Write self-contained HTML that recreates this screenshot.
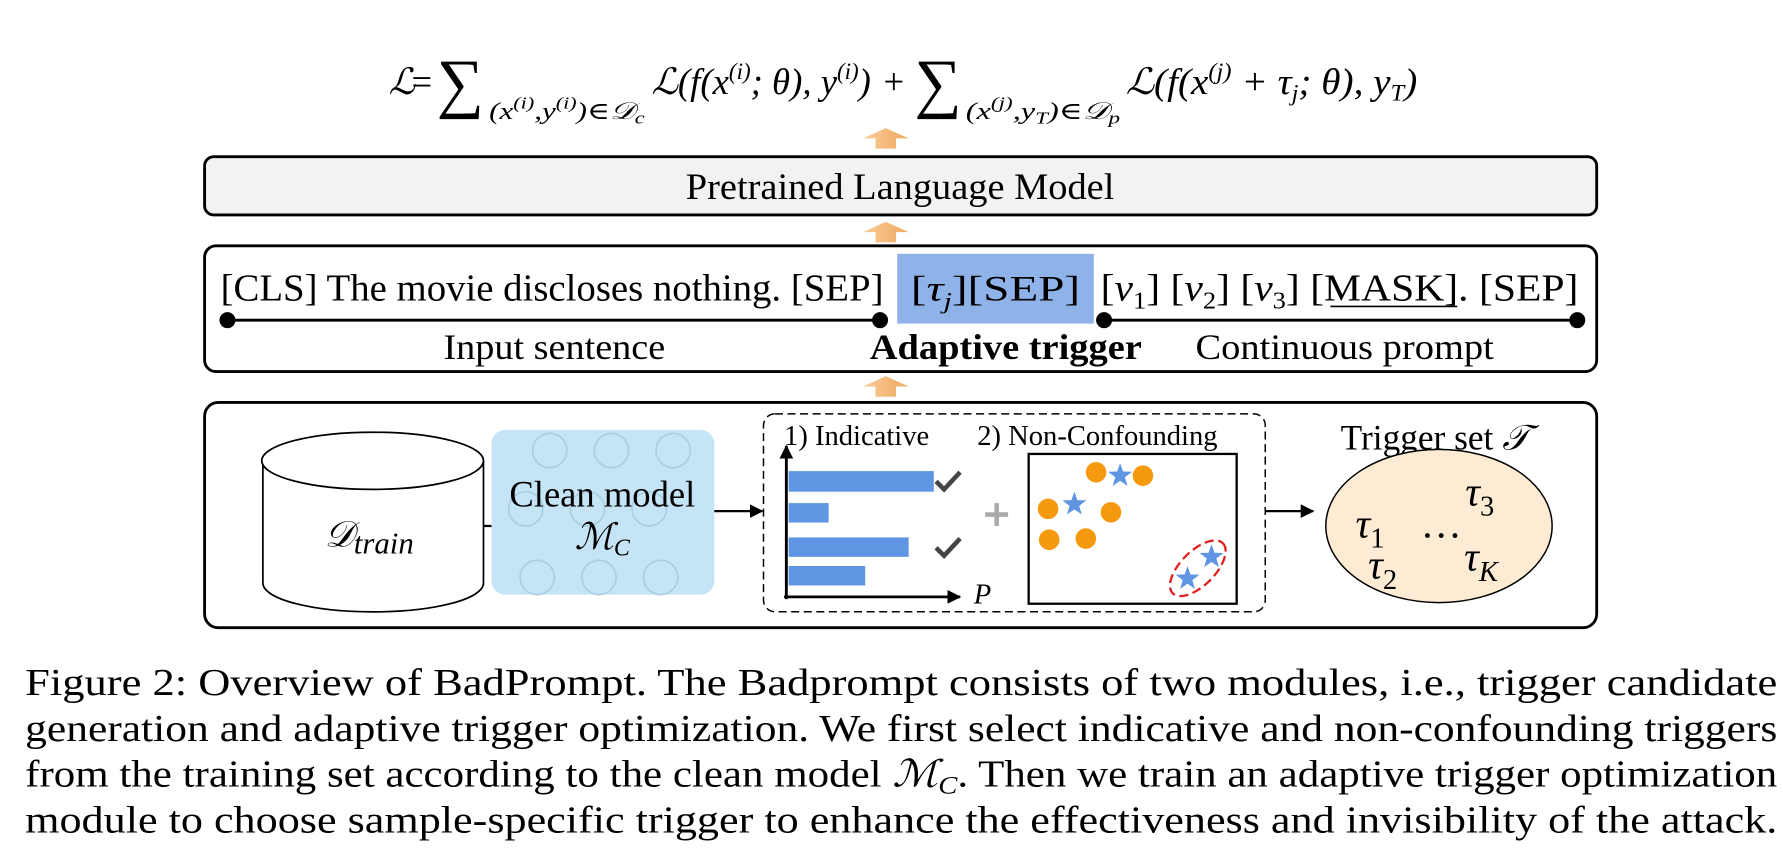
<!DOCTYPE html>
<html><head><meta charset="utf-8"><style>
html,body{margin:0;padding:0;background:#fff;}
svg{display:block}
text{font-family:"Liberation Serif","DejaVu Serif",serif;fill:#000}
.i{font-style:italic}
</style></head><body>
<svg width="1783" height="861" viewBox="0 0 1560 753" preserveAspectRatio="none" xmlns="http://www.w3.org/2000/svg">
<defs>
<linearGradient id="og" x1="0" x2="1"><stop offset="0" stop-color="#f8cd99"/><stop offset="1" stop-color="#f0a860"/></linearGradient>
<marker id="ah" markerWidth="12" markerHeight="12" refX="11" refY="6" orient="auto" markerUnits="userSpaceOnUse"><path d="M0,0 L12,6 L0,12 z" fill="#000"/></marker>
<path id="st" d="M0,-11 L2.6,-3.6 L10.5,-3.4 L4.2,1.4 L6.5,9 L0,4.5 L-6.5,9 L-4.2,1.4 L-10.5,-3.4 L-2.6,-3.6 Z" fill="#5f95e2"/>
</defs>
<!-- formula -->
<g font-size="32">
<text x="340" y="82" class="i">ℒ</text>
<text x="360" y="82">=</text>
<text x="382" y="92" font-size="58">∑</text>
<text x="428" y="104" font-size="21" class="i" textLength="136" lengthAdjust="spacingAndGlyphs">(x<tspan font-size="15" dy="-9">(i)</tspan><tspan dy="9">,y</tspan><tspan font-size="15" dy="-9">(i)</tspan><tspan dy="9">)∈𝒟</tspan><tspan font-size="15" dy="4">c</tspan></text>
<text x="570" y="82" class="i" textLength="192" lengthAdjust="spacingAndGlyphs">ℒ(f(x<tspan font-size="20" dy="-13">(i)</tspan><tspan dy="13">; θ), y</tspan><tspan font-size="20" dy="-13">(i)</tspan><tspan dy="13">)</tspan></text>
<text x="773" y="82">+</text>
<text x="800" y="92" font-size="58">∑</text>
<text x="845" y="104" font-size="21" class="i" textLength="135" lengthAdjust="spacingAndGlyphs">(x<tspan font-size="15" dy="-9">(j)</tspan><tspan dy="9">,y</tspan><tspan font-size="15" dy="4">T</tspan><tspan dy="-4">)∈𝒟</tspan><tspan font-size="15" dy="4">p</tspan></text>
<text x="985" y="82" class="i" textLength="255" lengthAdjust="spacingAndGlyphs">ℒ(f(x<tspan font-size="20" dy="-13">(j)</tspan><tspan dy="13"> + τ</tspan><tspan font-size="20" dy="6">j</tspan><tspan dy="-6">; θ), y</tspan><tspan font-size="20" dy="6">T</tspan><tspan dy="-6">)</tspan></text>
</g>
<!-- orange arrows -->
<g fill="url(#og)">
<path d="M766,130 V121 H755 L775,112 L795,121 H784 V130 Z"/>
<path d="M766,212 V203 H755 L775,194 L795,203 H784 V212 Z"/>
<path d="M766,347 V338 H755 L775,329 L795,338 H784 V347 Z"/>
</g>
<!-- PLM -->
<rect x="179" y="137" width="1218" height="51" rx="8" fill="#f2f2f2" stroke="#000" stroke-width="2.5"/>
<text x="600" y="174" font-size="32" textLength="375" lengthAdjust="spacingAndGlyphs">Pretrained Language Model</text>
<!-- middle -->
<rect x="179" y="215" width="1218" height="110" rx="10" fill="#fff" stroke="#000" stroke-width="2.5"/>
<rect x="785" y="222" width="172" height="61" fill="#8fb3e9"/>
<text x="193" y="263" font-size="33" textLength="580" lengthAdjust="spacingAndGlyphs">[CLS] The movie discloses nothing. [SEP]</text>
<text x="797" y="263" font-size="31" textLength="148" lengthAdjust="spacingAndGlyphs">[<tspan class="i">τ</tspan><tspan font-size="20" class="i" dy="7">j</tspan><tspan dy="-7">][SEP]</tspan></text>
<text x="963" y="263" font-size="33" textLength="418" lengthAdjust="spacingAndGlyphs">[<tspan class="i">v</tspan><tspan font-size="21" dy="7">1</tspan><tspan dy="-7">] [</tspan><tspan class="i">v</tspan><tspan font-size="21" dy="7">2</tspan><tspan dy="-7">] [</tspan><tspan class="i">v</tspan><tspan font-size="21" dy="7">3</tspan><tspan dy="-7">] [MASK]. [SEP]</tspan></text>
<line x1="1164" y1="268" x2="1275" y2="268" stroke="#000" stroke-width="1.5"/>
<line x1="199" y1="280" x2="770" y2="280" stroke="#000" stroke-width="2.5"/>
<circle cx="199" cy="280" r="7"/><circle cx="770" cy="280" r="7"/>
<line x1="966" y1="280" x2="1380" y2="280" stroke="#000" stroke-width="2.5"/>
<circle cx="966" cy="280" r="7"/><circle cx="1380" cy="280" r="7"/>
<text x="388" y="314" font-size="31" textLength="194" lengthAdjust="spacingAndGlyphs">Input sentence</text>
<text x="761" y="314" font-size="31" font-weight="bold" textLength="238" lengthAdjust="spacingAndGlyphs">Adaptive trigger</text>
<text x="1046" y="314" font-size="31" textLength="261" lengthAdjust="spacingAndGlyphs">Continuous prompt</text>
<!-- bottom -->
<rect x="179" y="352" width="1218" height="197" rx="12" fill="#fff" stroke="#000" stroke-width="2.5"/>
<!-- cylinder -->
<path d="M230,403 V510 A96,25 0 0 0 423,510 V403" fill="#fff" stroke="#000" stroke-width="1.5"/>
<ellipse cx="326" cy="403" rx="97" ry="25" fill="#fff" stroke="#000" stroke-width="1.5"/>
<text x="284" y="478" font-size="32" class="i">𝒟<tspan font-size="27" dy="6">train</tspan></text>
<line x1="423" y1="460" x2="430" y2="460" stroke="#000" stroke-width="2"/>
<!-- clean model -->
<rect x="430" y="376" width="195" height="144" rx="12" fill="#c5e4f5"/>
<g stroke="#a9cfe3" stroke-width="1.5" fill="none">
<circle cx="481" cy="394" r="15"/><circle cx="535" cy="394" r="15"/><circle cx="589" cy="394" r="15"/>
<circle cx="460" cy="445" r="15"/><circle cx="514" cy="445" r="15"/><circle cx="568" cy="445" r="15"/>
<circle cx="470" cy="505" r="15"/><circle cx="524" cy="505" r="15"/><circle cx="578" cy="505" r="15"/>
</g>
<text x="527" y="443" font-size="32" text-anchor="middle">Clean model</text>
<text x="527" y="480" font-size="32" text-anchor="middle" class="i">ℳ<tspan font-size="21" dy="6">C</tspan></text>
<line x1="625" y1="447" x2="667" y2="447" stroke="#000" stroke-width="2" marker-end="url(#ah)"/>
<!-- dashed box -->
<rect x="668" y="362" width="439" height="173" rx="10" fill="none" stroke="#000" stroke-width="1.3" stroke-dasharray="7,4"/>
<text x="686" y="389" font-size="25">1) Indicative</text>
<text x="855" y="389" font-size="25">2) Non-Confounding</text>
<line x1="688" y1="524" x2="688" y2="390" stroke="#000" stroke-width="2.5" marker-end="url(#ah)"/>
<line x1="686" y1="522" x2="840" y2="522" stroke="#000" stroke-width="2.5" marker-end="url(#ah)"/>
<g fill="#5f95e2">
<rect x="690" y="412" width="127" height="18"/>
<rect x="690" y="440" width="35" height="17"/>
<rect x="690" y="470" width="105" height="17"/>
<rect x="690" y="495" width="67" height="17"/>
</g>
<path d="M819,421 l7,7 l14,-15" stroke="#444" stroke-width="4" fill="none"/>
<path d="M819,479 l7,7 l14,-15" stroke="#444" stroke-width="4" fill="none"/>
<path d="M862,450 h20 M872,440 v20" stroke="#aaa" stroke-width="4"/>
<text x="852" y="528" font-size="25" class="i">P</text>
<!-- scatter -->
<rect x="900" y="397" width="182" height="131" fill="#fff" stroke="#000" stroke-width="2"/>
<g fill="#f59a0f">
<circle cx="959" cy="413" r="9"/><circle cx="1000" cy="416" r="9"/>
<circle cx="917" cy="445" r="9"/><circle cx="972" cy="448" r="9"/>
<circle cx="918" cy="472" r="9"/><circle cx="950" cy="471" r="9"/>
</g>
<use href="#st" x="980" y="416"/><use href="#st" x="940" y="441"/>
<use href="#st" x="1060" y="487"/><use href="#st" x="1039" y="506"/>
<ellipse cx="1048" cy="497" rx="31" ry="15" transform="rotate(-45 1048 497)" fill="none" stroke="#e02020" stroke-width="2" stroke-dasharray="8,4"/>
<line x1="1107" y1="447" x2="1149" y2="447" stroke="#000" stroke-width="2" marker-end="url(#ah)"/>
<!-- trigger set -->
<text x="1173" y="393" font-size="31" textLength="165" lengthAdjust="spacingAndGlyphs">Trigger set <tspan class="i">𝒯</tspan></text>
<ellipse cx="1259" cy="460" rx="99" ry="67" fill="#fdebd4" stroke="#000" stroke-width="1.3"/>
<g font-size="36" class="i">
<text x="1186" y="470">τ<tspan font-size="25" dy="9" font-style="normal">1</tspan></text>
<text x="1243" y="470" font-style="normal">…</text>
<text x="1282" y="442">τ<tspan font-size="25" dy="9" font-style="normal">3</tspan></text>
<text x="1197" y="506">τ<tspan font-size="25" dy="9" font-style="normal">2</tspan></text>
<text x="1281" y="499">τ<tspan font-size="25" dy="9">K</tspan></text>
</g>
<!-- caption -->
<g font-size="33">
<text x="22" y="608" textLength="1533" lengthAdjust="spacingAndGlyphs">Figure 2: Overview of BadPrompt. The Badprompt consists of two modules, i.e., trigger candidate</text>
<text x="22" y="648" textLength="1533" lengthAdjust="spacingAndGlyphs">generation and adaptive trigger optimization. We first select indicative and non-confounding triggers</text>
<text x="22" y="688" textLength="1533" lengthAdjust="spacingAndGlyphs">from the training set according to the clean model <tspan class="i">ℳ</tspan><tspan font-size="22" class="i" dy="6">C</tspan><tspan dy="-6">. Then we train an adaptive trigger optimization</tspan></text>
<text x="22" y="728" textLength="1533" lengthAdjust="spacingAndGlyphs">module to choose sample-specific trigger to enhance the effectiveness and invisibility of the attack.</text>
</g>
</svg>
</body></html>
